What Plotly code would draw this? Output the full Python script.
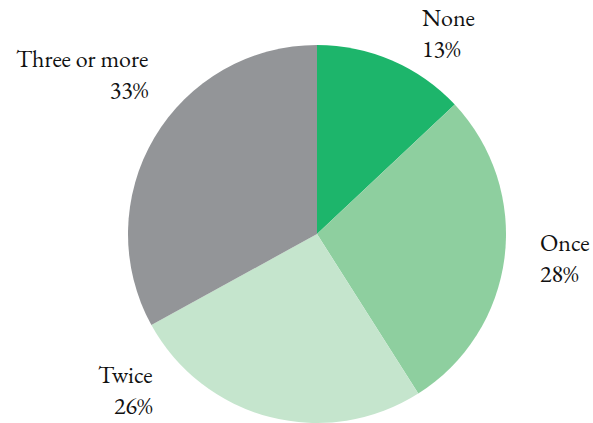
import plotly.graph_objects as go

# Share of respondents by frequency
labels = ["None", "Once", "Twice", "Three or more"]
shares = [13, 28, 26, 33]
colors = ["#1db56b", "#8ecf9f", "#c5e5cd", "#939598"]

W, H = 593, 423
FONT = "EB Garamond"
SIZE = 24

fig = go.Figure(
    go.Pie(
        labels=labels,
        values=shares,
        sort=False,
        direction="clockwise",
        rotation=0,
        marker=dict(colors=colors, line=dict(width=0)),
        textinfo="none",
        hoverinfo="label+percent",
        showlegend=False,
        domain=dict(x=[127 / W, 507 / W], y=[0.0, 1 - 45 / H]),
    )
)

# label placement: (x px, vertical middle of the two-line block px, anchor)
label_pos = {
    "None": (421, 33, "left"),
    "Once": (539, 258, "left"),
    "Twice": (154, 390, "right"),
    "Three or more": (150, 74, "right"),
}

annotations = []
for name, val in zip(labels, shares):
    x, y, anchor = label_pos[name]
    annotations.append(
        dict(
            x=x / W,
            y=1 - y / H,
            xref="paper",
            yref="paper",
            text=f"{name}<br>{val}%",
            showarrow=False,
            xanchor=anchor,
            yanchor="middle",
            align=anchor,
            borderpad=0,
            font=dict(family=FONT, size=SIZE, color="#111111"),
        )
    )

fig.update_layout(
    width=W,
    height=H,
    margin=dict(l=0, r=0, t=0, b=0),
    paper_bgcolor="white",
    plot_bgcolor="white",
    annotations=annotations,
)

fig.write_html("out.html")
